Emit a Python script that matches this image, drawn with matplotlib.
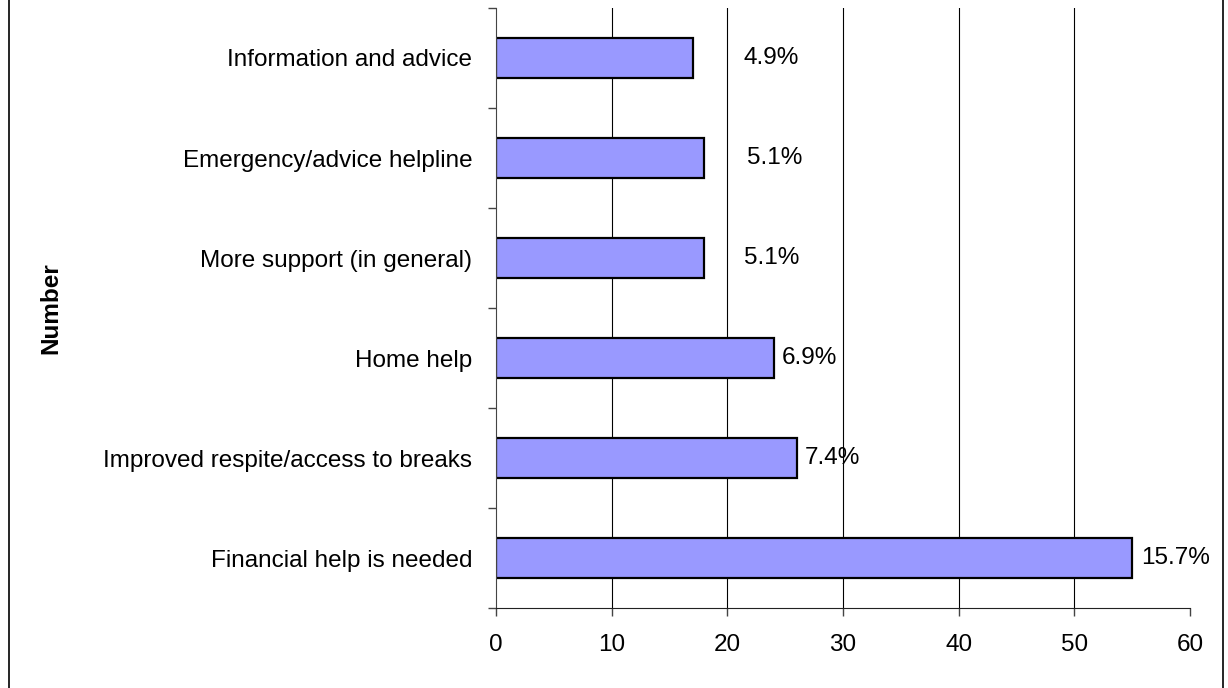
import matplotlib
matplotlib.use("Agg")
import matplotlib.pyplot as plt
from matplotlib.lines import Line2D

plt.rcParams['font.family'] = ['Liberation Sans', 'DejaVu Sans']

categories = ["Financial help is needed", "Improved respite/access to breaks",
              "Home help", "More support (in general)",
              "Emergency/advice helpline", "Information and advice"]
values = [55, 26, 24, 18, 18, 17]
pct_labels = ["15.7%", "7.4%", "6.9%", "5.1%", "5.1%", "4.9%"]
x_ticks = [0, 10, 20, 30, 40, 50, 60]
grid_ticks = [10, 20, 30, 40, 50]
# layout: left edge of each percentage label (data units)
label_x = [55.8, 26.7, 24.7, 21.4, 21.7, 21.4]

W, H = 1228, 688
fig = plt.figure(figsize=(W / 100, H / 100), dpi=100)
ax = fig.add_axes([496 / W, 1 - 608 / H, (1190 - 496) / W, 600 / H])

ypos = list(range(len(categories)))
for g in grid_ticks:
    ax.axvline(g, color='black', linewidth=0.8, zorder=0)
ax.barh(ypos, values, height=0.4, color='#9999FF', edgecolor='black',
        linewidth=1.6, zorder=2)
for y, lx, t in zip(ypos, label_x, pct_labels):
    ax.text(lx, y, t, ha='left', va='center', fontsize=17.5, zorder=3)

ax.set_xlim(0, 60)
ax.set_ylim(-0.5, len(categories) - 0.5)
ax.set_xticks(x_ticks)
ax.set_xticklabels([str(v) for v in x_ticks], fontsize=17.5)
ax.set_yticks([i - 0.5 for i in range(len(categories) + 1)])
ax.set_yticklabels([])
ax.set_yticks(ypos, minor=True)
ax.set_yticklabels(categories, minor=True, fontsize=17.5)
ax.tick_params(axis='y', which='minor', length=0, pad=17)
ax.tick_params(axis='y', which='major', length=6, width=1, color='#444444')
ax.tick_params(axis='x', length=6, width=1, pad=13, color='#444444')
for s in ['top', 'right']:
    ax.spines[s].set_visible(False)
ax.spines['left'].set_color('#444444')
ax.spines['bottom'].set_color('#222222')
ax.set_ylabel("Number", fontsize=17.5, fontweight='bold', labelpad=0,
              va='center')
ax.yaxis.set_label_coords((51 - 496) / (1190 - 496), 0.5)

fig.add_artist(Line2D([8.5 / W, 8.5 / W], [0, 1], color='black', linewidth=1.2))
fig.add_artist(Line2D([1222.5 / W, 1222.5 / W], [0, 1], color='black', linewidth=1.2))

fig.savefig("out.png", dpi=100, facecolor='white')
